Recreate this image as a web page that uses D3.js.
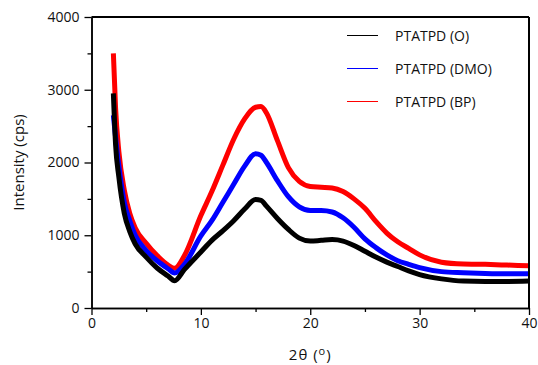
<!DOCTYPE html>
<html>
<head>
<meta charset="utf-8">
<script src="https://cdn.jsdelivr.net/npm/d3@7"></script>
<style>
  body { margin: 0; background: #fff; }
  svg text { font-family: "Open Sans", "DejaVu Sans", sans-serif; fill: #111; }
</style>
</head>
<body>
<svg id="chart" width="538" height="365"></svg>
<script>
// values
const twoTheta = [2, 2.2, 2.5, 3, 3.5, 4, 5, 6, 7, 7.6, 8.5, 10, 11, 12, 13, 14, 15, 15.5, 16, 17, 18, 19, 20, 21, 22, 23, 24, 25, 26, 27, 28, 29, 30, 32, 34, 36, 38, 40];
const seriesO   = [2950, 2250, 1800, 1300, 1050, 880, 700, 550, 440, 375, 530, 770, 930, 1060, 1200, 1360, 1490, 1480, 1400, 1230, 1080, 960, 920, 930, 940, 920, 860, 780, 700, 630, 570, 510, 460, 400, 370, 365, 365, 370];
const seriesDMO = [2650, 2350, 1950, 1450, 1200, 1000, 790, 650, 540, 480, 600, 990, 1200, 1450, 1700, 1950, 2120, 2100, 2000, 1750, 1530, 1390, 1340, 1340, 1320, 1240, 1110, 950, 830, 730, 650, 600, 555, 500, 485, 475, 470, 470];
const seriesBP  = [3500, 2750, 2150, 1620, 1300, 1100, 890, 720, 590, 545, 720, 1270, 1600, 1960, 2320, 2600, 2760, 2770, 2680, 2300, 1930, 1740, 1670, 1660, 1650, 1600, 1500, 1370, 1190, 1030, 910, 820, 730, 630, 605, 600, 590, 580];
const seriesNames = ['PTATPD (O)', 'PTATPD (DMO)', 'PTATPD (BP)'];
const seriesColors = ['#000000', '#0000ff', '#ff0000'];
const xMajor = [0, 10, 20, 30, 40];
const xMinor = [5, 15, 25, 35];
const yMajor = [0, 1000, 2000, 3000, 4000];
const yMinor = [500, 1500, 2500, 3500];

const margin = { top: 17, right: 9, bottom: 57, left: 91.5 };
const width = 538 - margin.left - margin.right;
const height = 365 - margin.top - margin.bottom;

const svg = d3.select('#chart');
const g = svg.append('g').attr('transform', 'translate(' + margin.left + ',' + margin.top + ')');

const x = d3.scaleLinear().domain([0, 40]).range([0, width]);
const y = d3.scaleLinear().domain([0, 4000]).range([height, 0]);

const line = d3.line()
  .x(d => x(d[0]))
  .y(d => y(d[1]))
  .curve(d3.curveMonotoneX);

const allSeries = [seriesO, seriesDMO, seriesBP];
// draw BP first, then DMO, then O on top
[2, 1, 0].forEach(i => {
  g.append('path')
    .datum(twoTheta.map((t, k) => [t, allSeries[i][k]]))
    .attr('fill', 'none')
    .attr('stroke', seriesColors[i])
    .attr('stroke-width', 5)
    .attr('stroke-linejoin', 'round')
    .attr('d', line);
});

// frame top and right
g.append('line').attr('x1', 0).attr('x2', width).attr('y1', 0).attr('y2', 0)
  .attr('stroke', '#000').attr('stroke-width', 2);
g.append('line').attr('x1', width).attr('x2', width).attr('y1', 0).attr('y2', height)
  .attr('stroke', '#000').attr('stroke-width', 2);

// axes
g.append('g').attr('transform', 'translate(0,' + height + ')')
  .call(d3.axisBottom(x).tickValues(xMajor).tickSize(7).tickSizeOuter(0).tickPadding(3).tickFormat(d3.format('d')));
g.append('g').attr('transform', 'translate(0,' + height + ')')
  .call(d3.axisBottom(x).tickValues(xMinor).tickSize(4).tickSizeOuter(0).tickFormat(''));
g.append('g')
  .call(d3.axisLeft(y).tickValues(yMajor).tickSize(7).tickSizeOuter(0).tickPadding(5).tickFormat(d3.format('d')));
g.append('g')
  .call(d3.axisLeft(y).tickValues(yMinor).tickSize(4).tickSizeOuter(0).tickFormat(''));

g.selectAll('.domain').attr('stroke', '#000').attr('stroke-width', 1.5);
g.selectAll('.tick line').attr('stroke', '#000').attr('stroke-width', 1.3);
g.selectAll('.tick text').style('font-size', '14px').style('font-family', '"Open Sans", sans-serif').attr('fill', '#111');

// axis titles
svg.append('text')
  .attr('transform', 'translate(24,' + (margin.top + height / 2) + ') rotate(-90)')
  .attr('text-anchor', 'middle')
  .style('font-size', '15px')
  .text('Intensity (cps)');

const xt = svg.append('text')
  .attr('x', margin.left + width / 2)
  .attr('y', 360)
  .attr('text-anchor', 'middle')
  .style('font-size', '15px')
  .style('letter-spacing', '1px');
xt.append('tspan').text('2θ (');
xt.append('tspan').attr('dy', -5).style('font-size', '11px').text('o');
xt.append('tspan').attr('dy', 5).text(')');

// legend
const legend = svg.append('g');
seriesNames.forEach((name, i) => {
  const ly = 35.5 + i * 33;
  legend.append('line')
    .attr('x1', 347).attr('x2', 378)
    .attr('y1', ly).attr('y2', ly)
    .attr('stroke', seriesColors[i]).attr('stroke-width', 1)
    .attr('shape-rendering', 'crispEdges');
  legend.append('text')
    .attr('x', 395).attr('y', ly + 5)
    .style('font-size', '14px')
    .text(name);
});
</script>
</body>
</html>
